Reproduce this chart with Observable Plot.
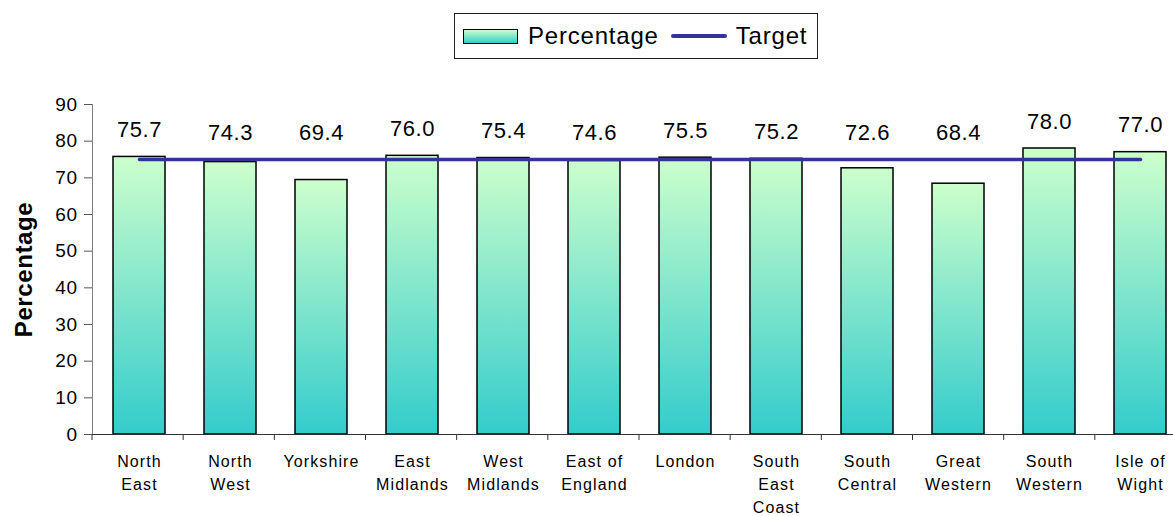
<!DOCTYPE html>
<html>
<head>
<meta charset="utf-8">
<script src="https://cdn.jsdelivr.net/npm/d3@7"></script>
<script src="https://cdn.jsdelivr.net/npm/@observablehq/plot@0.6"></script>
<style>
  html, body { margin: 0; padding: 0; background: #fff; overflow: hidden; }
  #wrap { position: relative; width: 1173px; height: 516px; overflow: hidden; font-family: "Liberation Sans", Arial, sans-serif; }
  #legend {
    position: absolute; left: 454px; top: 13px; width: 362px; height: 44px;
    border: 1.5px solid #222; background: #fff; box-sizing: content-box;
    display: flex; align-items: center; font-size: 24px; color: #000; letter-spacing: 0.8px;
  }
  #legend .sw {
    width: 53px; height: 13px; margin-left: 8px; margin-right: 10px;
    border: 1.5px solid #000;
    background: linear-gradient(to bottom, #ccffcc, #33cccc);
  }
  #legend .ln { width: 56px; height: 3.5px; background: #333399; margin: 0 9px 0 12px; border-radius: 2px; }
  svg g[aria-label="x-axis tick label"] text { letter-spacing: 1.1px; }
  svg g[aria-label="y-axis tick label"] text { letter-spacing: 0.5px; }
  svg g[aria-label="text"] text { letter-spacing: 0.6px; }
</style>
</head>
<body>
<div id="wrap">
  <div id="chart"></div>
  <div id="legend"><span class="sw"></span><span>Percentage</span><span class="ln"></span><span>Target</span></div>
</div>
<script>
// Regional percentages against a common target
const regions = ["North East", "North West", "Yorkshire", "East Midlands", "West Midlands", "East of England",
                 "London", "South East Coast", "South Central", "Great Western", "South Western", "Isle of Wight"];
const tickLabels = ["North\nEast", "North\nWest", "Yorkshire", "East\nMidlands", "West\nMidlands", "East of\nEngland",
                    "London", "South\nEast\nCoast", "South\nCentral", "Great\nWestern", "South\nWestern", "Isle of\nWight"];
const percentages = [75.7, 74.3, 69.4, 76.0, 75.4, 74.6, 75.5, 75.2, 72.6, 68.4, 78.0, 77.0];
const target = 75;
const yTicks = [0, 10, 20, 30, 40, 50, 60, 70, 80, 90];

const data = regions.map((region, i) => ({region, value: percentages[i], label: tickLabels[i]}));
const labelOf = new Map(data.map(d => [d.region, d.label]));

// gradient used to fill each bar, light green at the top to teal at the bottom
const gradientDefs = () => {
  const svg = d3.create("svg:g");
  const grad = svg.append("defs").append("linearGradient")
    .attr("id", "barFill").attr("x1", 0).attr("y1", 0).attr("x2", 0).attr("y2", 1);
  grad.append("stop").attr("offset", "0%").attr("stop-color", "#ccffcc");
  grad.append("stop").attr("offset", "100%").attr("stop-color", "#33cccc");
  return svg.node();
};

// small ticks below the x axis at the category boundaries
const boundaryTicks = (index, scales, values, dims) => {
  const g = d3.create("svg:g").attr("stroke", "#333").attr("stroke-width", 1);
  const left = dims.marginLeft, right = dims.width - dims.marginRight;
  const step = (right - left) / regions.length;
  const y0 = scales.y(0);
  for (let i = 0; i <= regions.length; i++) {
    const x = left + i * step;
    g.append("line").attr("x1", x).attr("x2", x).attr("y1", y0).attr("y2", y0 + 6);
  }
  return g.node();
};

const plot = Plot.plot({
  width: 1186,
  height: 516,
  marginLeft: 92,
  marginRight: 0,
  marginTop: 104,
  marginBottom: 82,
  style: {fontFamily: "Liberation Sans, Arial, sans-serif", background: "#fff", overflow: "visible", maxWidth: "none"},
  x: {domain: regions, paddingInner: 0.43, paddingOuter: 0.215, label: null},
  y: {domain: [0, 90], label: null},
  marks: [
    gradientDefs,
    Plot.frame({anchor: "left", stroke: "#808080"}),
    Plot.barY(data, {x: "region", y: "value", fill: "url(#barFill)", stroke: "#000", strokeWidth: 1.5}),
    Plot.ruleY([0], {stroke: "#333"}),
    boundaryTicks,
    Plot.lineY(data, {x: "region", y: () => target, stroke: "#333399", strokeWidth: 3.5}),
    Plot.text(data, {x: "region", y: d => Math.max(d.value, target), text: d => d.value.toFixed(1),
                     dy: -27, fontSize: 22, fill: "#000"}),
    Plot.axisY({ticks: yTicks, tickSize: 8, tickPadding: 7, fontSize: 19, stroke: "#555", color: "#000",
                label: null}),
    Plot.axisX({tickSize: 0, tickPadding: 16, fontSize: 16, lineHeight: 1.45, tickFormat: d => labelOf.get(d),
                label: null, color: "#000"}),
    Plot.text(["Percentage"], {frameAnchor: "left", dx: -68, rotate: -90, fontSize: 24, fontWeight: "bold",
                               fill: "#000", textAnchor: "middle"})
  ]
});

document.getElementById("chart").appendChild(plot);
</script>
</body>
</html>
